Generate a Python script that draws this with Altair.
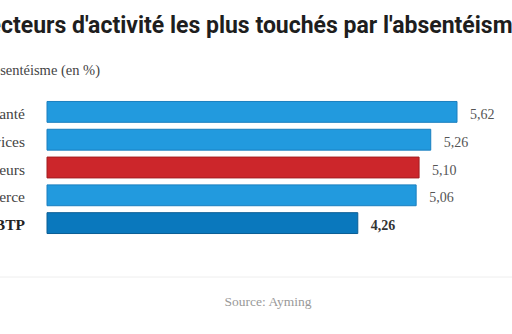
import altair as alt
import pandas as pd

categories = ["Santé", "Services", "Tous secteurs", "Commerce", "BTP"]
values = [5.62, 5.26, 5.10, 5.06, 4.26]
labels = ["5,62", "5,26", "5,10", "5,06", "4,26"]
bold = [False, False, False, False, True]
fill_colors = ["#229ade", "#229ade", "#cc262b", "#229ade", "#0a78bd"]
stroke_colors = ["#1a7fbf", "#1a7fbf", "#a31d21", "#1a7fbf", "#0a5e95"]

title_text = "Les secteurs d'activité les plus touchés par l'absentéisme"
subtitle_text = "Taux d'absentéisme (en %)"
source_text = "Source: Ayming"

df = pd.DataFrame({"cat": categories, "val": values, "lab": labels, "bold": bold})

xs = alt.Scale(domain=[0, 5.62], range=[47, 457])
ys = alt.Scale(domain=categories, range=[98, 237], paddingInner=0.25, paddingOuter=0.125)
X = alt.X("val:Q", scale=xs, axis=None)
Y = alt.Y("cat:N", scale=ys, axis=None, sort=categories)

SERIF = "Liberation Serif"

base = alt.Chart(df)

bars = base.mark_bar(strokeWidth=1, cornerRadius=0).encode(
    x=X, y=Y,
    color=alt.Color("cat:N", scale=alt.Scale(domain=categories, range=fill_colors), legend=None),
    stroke=alt.Stroke("cat:N", scale=alt.Scale(domain=categories, range=stroke_colors), legend=None),
)

cat_norm = base.transform_filter("!datum.bold").mark_text(
    align="right", baseline="middle", dy=2, font=SERIF, fontSize=15.5, color="#444"
).encode(x=alt.value(25), y=Y, text="cat:N")
cat_bold = base.transform_filter("datum.bold").mark_text(
    align="right", baseline="middle", dy=2, font=SERIF, fontSize=15.5, fontWeight="bold", color="#222"
).encode(x=alt.value(25), y=Y, text="cat:N")

val_norm = base.transform_filter("!datum.bold").mark_text(
    align="left", baseline="middle", dx=13, dy=3, font=SERIF, fontSize=14, color="#555"
).encode(x=X, y=Y, text="lab:N")
val_bold = base.transform_filter("datum.bold").mark_text(
    align="left", baseline="middle", dx=13, dy=3, font=SERIF, fontSize=14, fontWeight="bold", color="#333"
).encode(x=X, y=Y, text="lab:N")

one = alt.Chart(pd.DataFrame({"t": [title_text], "s": [subtitle_text], "src": [source_text]}))

title = one.mark_text(
    align="right", baseline="alphabetic", font="Roboto", fontSize=23, fontWeight="bold", color="#1e1e1e"
).encode(x=alt.value(525), y=alt.value(33), text="t:N")
subtitle = one.mark_text(
    align="right", baseline="middle", font=SERIF, fontSize=14.5, color="#444"
).encode(x=alt.value(100), y=alt.value(71), text="s:N")
rule = one.mark_rule(color="#eeeeee", strokeWidth=1).encode(
    x=alt.value(0), x2=alt.value(512), y=alt.value(277)
)
source = one.mark_text(
    align="center", baseline="middle", font=SERIF, fontSize=13.5, color="#999"
).encode(x=alt.value(268), y=alt.value(302), text="src:N")

chart = alt.layer(
    bars, cat_norm, cat_bold, val_norm, val_bold, title, subtitle, rule, source
).properties(
    width=512, height=334, padding=0,
    autosize=alt.AutoSizeParams(type="none"),
    background="#ffffff",
).configure_view(stroke=None)

chart.save("out.html", embed_options={"renderer": "svg", "actions": False})
